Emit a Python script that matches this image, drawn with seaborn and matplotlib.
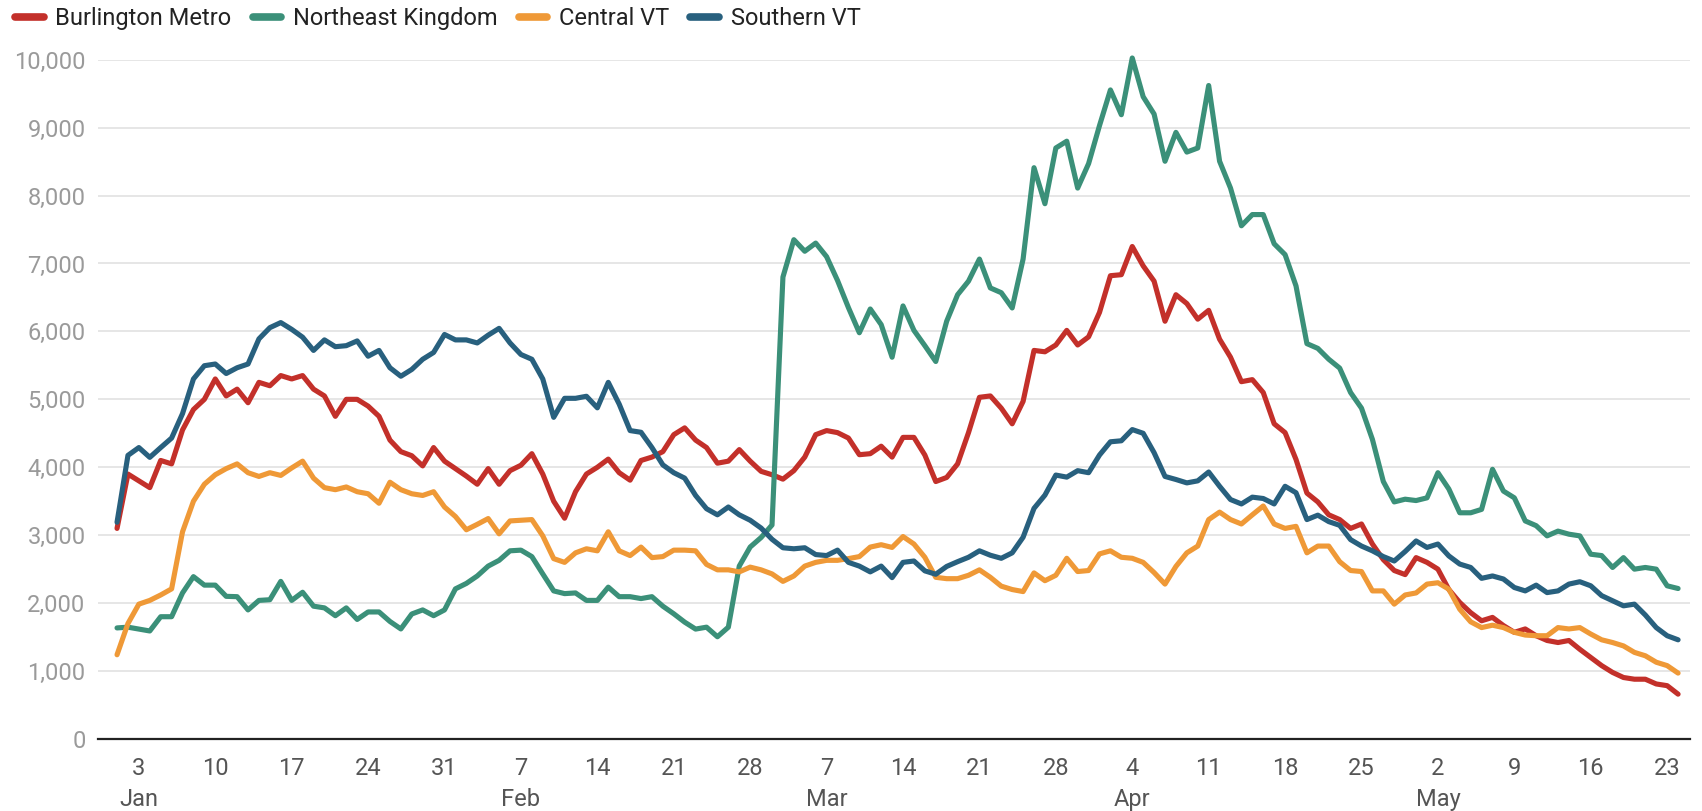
import pandas as pd
import numpy as np
import matplotlib
matplotlib.use("Agg")
import matplotlib.pyplot as plt
import seaborn as sns

# --- data: daily values, Jan 1 - May 24 ---
dates = pd.date_range("2021-01-01", periods=144, freq="D")

burlington = [
    3100, 3900, 3800, 3700, 4100, 4050, 4550, 4850, 5000, 5300,
    5050, 5150, 4950, 5250, 5200, 5350, 5300, 5350, 5150, 5050,
    4750, 5000, 5000, 4900, 4750, 4400, 4230, 4170, 4020, 4290,
    4090, 3980, 3870, 3750, 3980, 3750, 3950, 4030, 4200, 3900,
    3500, 3250, 3640, 3900, 4000, 4120, 3920, 3810, 4100, 4150,
    4230, 4480, 4580, 4400, 4290, 4060, 4090, 4260, 4090, 3940,
    3890, 3825, 3950, 4150, 4480, 4540, 4510, 4430, 4185, 4200,
    4310, 4150, 4440, 4440, 4180, 3790, 3850, 4050, 4510, 5030,
    5050, 4870, 4640, 4970, 5720, 5700, 5800, 6015, 5800, 5920,
    6280, 6820, 6835, 7250, 6965, 6740, 6150, 6540, 6410, 6180,
    6310, 5885, 5620, 5260, 5290, 5100, 4640, 4510, 4115, 3620,
    3490, 3300, 3230, 3100, 3165, 2870, 2640, 2480, 2420, 2670,
    2600, 2500, 2200, 2010, 1860, 1740, 1790, 1670, 1570, 1620,
    1520, 1450, 1420, 1450, 1320, 1200, 1080, 980, 905, 880,
    880, 810, 785, 660,
]
northeast = [
    1635, 1646, 1618, 1590, 1800, 1800, 2150, 2390, 2265, 2265,
    2100, 2095, 1900, 2040, 2050, 2320, 2040, 2160, 1955, 1930,
    1815, 1930, 1760, 1870, 1870, 1730, 1620, 1840, 1900, 1815,
    1900, 2210, 2290, 2400, 2545, 2630, 2770, 2780, 2685, 2430,
    2180, 2140, 2150, 2040, 2040, 2235, 2095, 2095, 2067, 2095,
    1955, 1843, 1720, 1618, 1646, 1505, 1646, 2545, 2826, 2966,
    3150, 6800, 7350, 7180, 7300, 7100, 6750, 6350, 5980, 6330,
    6100, 5620, 6375, 6015, 5790, 5557, 6150, 6540, 6740, 7065,
    6640, 6570, 6345, 7065, 8410, 7880, 8700, 8800, 8110, 8470,
    9030, 9555, 9190, 10025, 9455, 9200, 8505, 8930, 8640, 8700,
    9620, 8505, 8110, 7555, 7720, 7720, 7290, 7130, 6670, 5820,
    5750, 5590, 5460, 5100, 4870, 4410, 3790, 3490, 3530, 3510,
    3550, 3920, 3680, 3330, 3330, 3380, 3970, 3650, 3550, 3210,
    3140, 2990, 3060, 3015, 2990, 2720, 2700, 2525, 2670, 2500,
    2525, 2500, 2255, 2215,
]
central = [
    1240, 1700, 1985, 2040, 2120, 2210, 3050, 3500, 3750, 3890,
    3980, 4050, 3920, 3865, 3920, 3880, 3990, 4090, 3840, 3700,
    3670, 3710, 3640, 3610, 3470, 3780, 3670, 3610, 3585, 3640,
    3415, 3275, 3080, 3160, 3245, 3020, 3210, 3220, 3230, 2990,
    2655, 2600, 2740, 2800, 2770, 3050, 2770, 2700, 2825, 2670,
    2685, 2780, 2780, 2770, 2570, 2490, 2490, 2460, 2530, 2490,
    2430, 2320, 2400, 2545, 2600, 2630, 2630, 2655, 2685, 2825,
    2860, 2820, 2980, 2870, 2675, 2380, 2360, 2360, 2410, 2490,
    2380, 2250, 2200, 2170, 2445, 2330, 2410, 2660, 2465, 2480,
    2725, 2770, 2675, 2660, 2600, 2450, 2280, 2540, 2740, 2840,
    3230, 3340, 3230, 3165, 3300, 3430, 3165, 3100, 3130, 2740,
    2840, 2840, 2610, 2480, 2465, 2180, 2180, 1985, 2120, 2150,
    2280, 2300, 2205, 1910, 1725, 1640, 1675, 1640, 1570, 1530,
    1520, 1520, 1640, 1620, 1640, 1545, 1460, 1420, 1370, 1275,
    1225, 1130, 1080, 970,
]
southern = [
    3190, 4175, 4290, 4146, 4290, 4430, 4790, 5300, 5495, 5520,
    5380, 5465, 5520, 5890, 6055, 6130, 6030, 5915, 5720, 5875,
    5775, 5790, 5860, 5635, 5720, 5465, 5340, 5440, 5590, 5690,
    5955, 5875, 5875, 5830, 5945, 6045, 5830, 5660, 5590, 5300,
    4735, 5015, 5015, 5045, 4875, 5250, 4930, 4540, 4515, 4290,
    4035, 3920, 3840, 3585, 3390, 3300, 3415, 3300, 3220, 3105,
    2940, 2815, 2800, 2815, 2715, 2700, 2780, 2600, 2545, 2460,
    2545, 2375, 2600, 2620, 2475, 2425, 2540, 2610, 2675, 2770,
    2705, 2660, 2740, 2970, 3395, 3590, 3885, 3855, 3950, 3920,
    4180, 4375, 4390, 4555, 4500, 4215, 3865, 3820, 3770, 3800,
    3930, 3720, 3525, 3460, 3560, 3540, 3460, 3720, 3625, 3230,
    3295, 3200, 3145, 2935, 2840, 2770, 2685, 2620, 2760, 2915,
    2820, 2870, 2695, 2575, 2525, 2365, 2400, 2355, 2230, 2180,
    2265, 2155, 2180, 2280, 2315, 2255, 2110, 2035, 1960, 1985,
    1825, 1640, 1520, 1460,
]

regions = ["Burlington Metro", "Northeast Kingdom", "Central VT", "Southern VT"]
colors = ["#c3302a", "#3b9079", "#ef9937", "#28607e"]

tick_dates = pd.to_datetime([
    "2021-01-03", "2021-01-10", "2021-01-17", "2021-01-24", "2021-01-31",
    "2021-02-07", "2021-02-14", "2021-02-21", "2021-02-28",
    "2021-03-07", "2021-03-14", "2021-03-21", "2021-03-28",
    "2021-04-04", "2021-04-11", "2021-04-18", "2021-04-25",
    "2021-05-02", "2021-05-09", "2021-05-16", "2021-05-23",
])
tick_labels = ["3\nJan", "10", "17", "24", "31", "7\nFeb", "14", "21", "28",
               "7\nMar", "14", "21", "28", "4\nApr", "11", "18", "25",
               "2\nMay", "9", "16", "23"]
y_ticks = [0, 1000, 2000, 3000, 4000, 5000, 6000, 7000, 8000, 9000, 10000]

df = pd.DataFrame({
    "date": np.tile(dates, 4),
    "value": burlington + northeast + central + southern,
    "region": np.repeat(regions, len(dates)),
})

sns.set_style("white")
plt.rcParams["font.family"] = ["Roboto", "DejaVu Sans"]

fig = plt.figure(figsize=(17.02, 8.11), dpi=100)
ax = fig.add_axes([0.0576, 0.0888, 0.9354, 0.8376])

sns.lineplot(data=df, x="date", y="value", hue="region", hue_order=regions,
             palette=colors, linewidth=3.7, ax=ax, legend=False)
for ln in ax.lines:
    ln.set_clip_on(False)
    ln.set_solid_capstyle("round")
    ln.set_solid_joinstyle("round")

ax.set_xlim(dates[0] - pd.Timedelta(days=1.74), dates[0] + pd.Timedelta(days=144.1))
ax.set_ylim(0, 10000)
ax.set_yticks(y_ticks)
ax.set_yticklabels([f"{v:,}" for v in y_ticks])
ax.set_xticks(tick_dates)
ax.set_xticklabels(tick_labels, linespacing=1.45)
ax.set_xlabel("")
ax.set_ylabel("")

ax.yaxis.grid(True, color="#e4e4e4", linewidth=1.3)
ax.xaxis.grid(False)
for s in ["top", "right", "left"]:
    ax.spines[s].set_visible(False)
ax.spines["bottom"].set_color("#222222")
ax.spines["bottom"].set_linewidth(1.6)
ax.spines["bottom"].set_zorder(5)
ax.tick_params(axis="y", length=0, pad=9, labelsize=17, labelcolor="#9a9a9a")
ax.tick_params(axis="x", length=0, pad=13, labelsize=17, labelcolor="#555555")

handles = [plt.Line2D([], [], color=c, linewidth=5.5, solid_capstyle="round") for c in colors]
fig.legend(handles, regions, loc="upper left", bbox_to_anchor=(0.002, 1.006), ncol=4,
           frameon=False, fontsize=17, handlelength=1.2, handletextpad=0.5,
           columnspacing=0.9, borderaxespad=0.1, labelcolor="#222222")

fig.savefig("out.png", dpi=100)
